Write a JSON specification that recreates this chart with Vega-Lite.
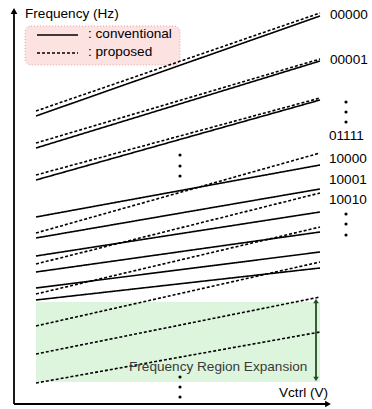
{
  "$schema": "https://vega.github.io/schema/vega-lite/v6.json",
  "width": 372,
  "height": 409,
  "padding": 0,
  "autosize": {"type": "fit", "contains": "padding"},
  "background": "white",
  "config": {"view": {"stroke": null}},
  "datasets": {
    "segs": [
      {"id": "00000", "kind": "conventional", "x1": 36, "f1": 293, "x2": 320, "f2": 393},
      {"id": "00000", "kind": "proposed", "x1": 36, "f1": 298, "x2": 320, "f2": 396},
      {"id": "00001", "kind": "conventional", "x1": 36, "f1": 261, "x2": 320, "f2": 348},
      {"id": "00001", "kind": "proposed", "x1": 36, "f1": 266, "x2": 320, "f2": 350},
      {"id": "01111", "kind": "conventional", "x1": 36, "f1": 229, "x2": 320, "f2": 309},
      {"id": "01111", "kind": "proposed", "x1": 36, "f1": 234, "x2": 320, "f2": 311},
      {"id": "c1", "kind": "conventional", "x1": 36, "f1": 192, "x2": 320, "f2": 244},
      {"id": "c2", "kind": "conventional", "x1": 36, "f1": 171, "x2": 320, "f2": 220},
      {"id": "c3", "kind": "conventional", "x1": 36, "f1": 153, "x2": 320, "f2": 197},
      {"id": "c4", "kind": "conventional", "x1": 36, "f1": 137, "x2": 320, "f2": 177},
      {"id": "c5", "kind": "conventional", "x1": 36, "f1": 121, "x2": 320, "f2": 157},
      {"id": "c6", "kind": "conventional", "x1": 36, "f1": 109, "x2": 320, "f2": 141},
      {"id": "d1", "kind": "proposed", "x1": 36, "f1": 176, "x2": 320, "f2": 256},
      {"id": "d2", "kind": "proposed", "x1": 36, "f1": 145, "x2": 320, "f2": 216},
      {"id": "d3", "kind": "proposed", "x1": 36, "f1": 115, "x2": 320, "f2": 182},
      {"id": "d4", "kind": "proposed", "x1": 36, "f1": 83, "x2": 320, "f2": 147},
      {"id": "d5", "kind": "proposed", "x1": 36, "f1": 55, "x2": 320, "f2": 112},
      {"id": "d6", "kind": "proposed", "x1": 36, "f1": 26, "x2": 320, "f2": 77},
      {"id": "legend", "kind": "conventional", "x1": 37, "f1": 374, "x2": 78, "f2": 374},
      {"id": "legend", "kind": "proposed", "x1": 37, "f1": 356, "x2": 78, "f2": 356}
    ],
    "labels": [
      {"text": "Frequency (Hz)", "x": 25, "f": 395},
      {"text": ": conventional", "x": 88, "f": 375},
      {"text": ": proposed", "x": 88, "f": 357},
      {"text": "00000", "x": 330, "f": 394},
      {"text": "00001", "x": 330, "f": 349},
      {"text": "01111", "x": 329, "f": 273},
      {"text": "10000", "x": 329, "f": 250},
      {"text": "10001", "x": 329, "f": 229},
      {"text": "10010", "x": 329, "f": 209},
      {"text": "Vctrl (V)", "x": 279, "f": 16}
    ],
    "dots": [
      {"x": 346, "f": 307}, {"x": 346, "f": 297}, {"x": 346, "f": 287},
      {"x": 346, "f": 195}, {"x": 346, "f": 185}, {"x": 346, "f": 174},
      {"x": 180, "f": 254}, {"x": 180, "f": 243}, {"x": 180, "f": 233},
      {"x": 180, "f": 32}, {"x": 180, "f": 22}, {"x": 180, "f": 12}
    ]
  },
  "layer": [
    {
      "data": {"values": [{"x1": 25, "x2": 180, "f1": 383, "f2": 344}]},
      "mark": {"type": "rect", "fill": "#fde2e2", "stroke": "#e3a3a3", "strokeDash": [1, 2], "strokeWidth": 1, "cornerRadius": 6},
      "encoding": {
        "x": {"field": "x1", "type": "quantitative", "scale": {"domain": [0, 372], "nice": false, "zero": false}, "axis": null},
        "x2": {"field": "x2"},
        "y": {"field": "f1", "type": "quantitative", "scale": {"domain": [0, 409], "nice": false, "zero": false}, "axis": null},
        "y2": {"field": "f2"}
      }
    },
    {
      "data": {"values": [{"x1": 36, "x2": 320, "f1": 107, "f2": 27}]},
      "mark": {"type": "rect", "fill": "#ddf5dd"},
      "encoding": {
        "x": {"field": "x1", "type": "quantitative"},
        "x2": {"field": "x2"},
        "y": {"field": "f1", "type": "quantitative"},
        "y2": {"field": "f2"}
      }
    },
    {
      "data": {"name": "segs"},
      "mark": {"type": "rule", "color": "black", "strokeWidth": 1.6},
      "encoding": {
        "x": {"field": "x1", "type": "quantitative"},
        "x2": {"field": "x2"},
        "y": {"field": "f1", "type": "quantitative"},
        "y2": {"field": "f2"},
        "strokeDash": {"field": "kind", "type": "nominal", "scale": {"domain": ["conventional", "proposed"], "range": [[1, 0], [3, 2]]}, "legend": null}
      }
    },
    {
      "data": {"values": [
        {"part": "yaxis", "x1": 14, "x2": 14, "f1": 5, "f2": 398},
        {"part": "xaxis", "x1": 14, "x2": 326, "f1": 5, "f2": 5}
      ]},
      "mark": {"type": "rule", "color": "black", "strokeWidth": 1.8},
      "encoding": {
        "x": {"field": "x1", "type": "quantitative"},
        "x2": {"field": "x2"},
        "y": {"field": "f1", "type": "quantitative"},
        "y2": {"field": "f2"}
      }
    },
    {
      "data": {"values": [{"x": 14, "f": 398}]},
      "mark": {"type": "point", "shape": "triangle-up", "filled": true, "color": "black", "opacity": 1, "size": 45},
      "encoding": {"x": {"field": "x", "type": "quantitative"}, "y": {"field": "f", "type": "quantitative"}}
    },
    {
      "data": {"values": [{"x": 328, "f": 5}]},
      "mark": {"type": "point", "shape": "triangle-right", "filled": true, "color": "black", "opacity": 1, "size": 45},
      "encoding": {"x": {"field": "x", "type": "quantitative"}, "y": {"field": "f", "type": "quantitative"}}
    },
    {
      "data": {"values": [{"x1": 316, "x2": 316, "f1": 32, "f2": 108}]},
      "mark": {"type": "rule", "color": "#244d24", "strokeWidth": 1.8},
      "encoding": {
        "x": {"field": "x1", "type": "quantitative"},
        "x2": {"field": "x2"},
        "y": {"field": "f1", "type": "quantitative"},
        "y2": {"field": "f2"}
      }
    },
    {
      "data": {"values": [{"x": 316, "f": 108, "dir": "up"}, {"x": 316, "f": 30, "dir": "down"}]},
      "mark": {"type": "point", "filled": true, "color": "#244d24", "opacity": 1, "size": 30},
      "encoding": {
        "x": {"field": "x", "type": "quantitative"},
        "y": {"field": "f", "type": "quantitative"},
        "shape": {"field": "dir", "type": "nominal", "scale": {"domain": ["up", "down"], "range": ["triangle-up", "triangle-down"]}, "legend": null}
      }
    },
    {
      "data": {"name": "dots"},
      "mark": {"type": "circle", "color": "black", "opacity": 1, "size": 10},
      "encoding": {"x": {"field": "x", "type": "quantitative"}, "y": {"field": "f", "type": "quantitative"}}
    },
    {
      "data": {"name": "labels"},
      "mark": {"type": "text", "align": "left", "baseline": "middle", "font": "Liberation Sans", "fontSize": 13.6, "color": "black"},
      "encoding": {"x": {"field": "x", "type": "quantitative"}, "y": {"field": "f", "type": "quantitative"}, "text": {"field": "text"}}
    },
    {
      "data": {"values": [{"text": "Frequency Region Expansion", "x": 129, "f": 42}]},
      "mark": {"type": "text", "align": "left", "baseline": "middle", "font": "Liberation Sans", "fontSize": 13.6, "color": "#3a3a3a"},
      "encoding": {"x": {"field": "x", "type": "quantitative"}, "y": {"field": "f", "type": "quantitative"}, "text": {"field": "text"}}
    }
  ]
}
